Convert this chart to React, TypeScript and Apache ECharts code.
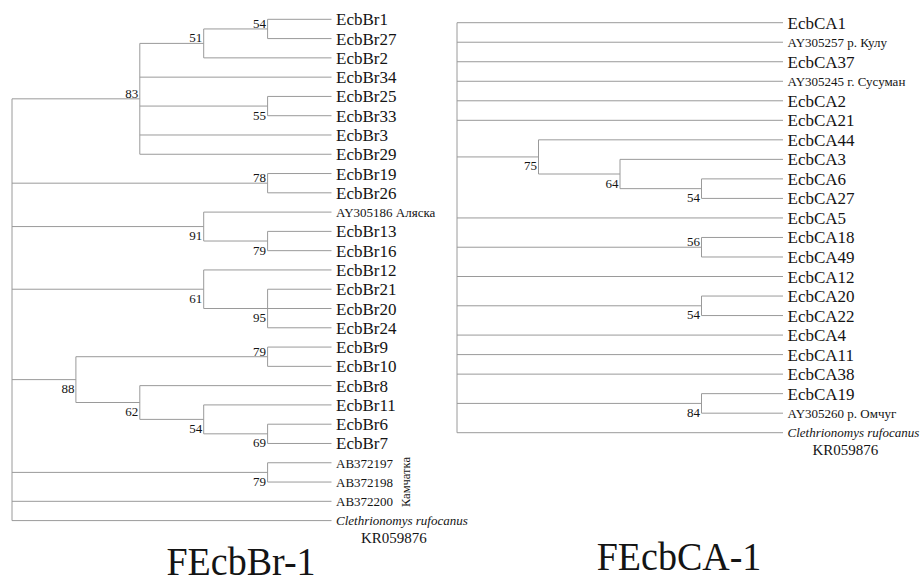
import { useEffect, useRef } from 'react';
import * as echarts from 'echarts';

// A clade is [bootstrap support (or null), ...children]; a child is a leaf name or a nested clade.
type Clade = (number | null | string | Clade)[];

const outgroupName = 'Clethrionomys rufocanus';
const outgroupAccession = 'KR059876';

const ecbBrTree: Clade = [
  null,
  [83, [51, [54, 'EcbBr1', 'EcbBr27'], 'EcbBr2'], 'EcbBr34', [55, 'EcbBr25', 'EcbBr33'], 'EcbBr3', 'EcbBr29'],
  [78, 'EcbBr19', 'EcbBr26'],
  [91, 'AY305186 Аляска', [79, 'EcbBr13', 'EcbBr16']],
  [61, 'EcbBr12', [95, 'EcbBr21', 'EcbBr20', 'EcbBr24']],
  [88, [79, 'EcbBr9', 'EcbBr10'], [62, 'EcbBr8', [54, 'EcbBr11', [69, 'EcbBr6', 'EcbBr7']]]],
  [79, 'AB372197', 'AB372198'],
  'AB372200',
  outgroupName,
];

const ecbCATree: Clade = [
  null,
  'EcbCA1',
  'AY305257 р. Кулу',
  'EcbCA37',
  'AY305245 г. Сусуман',
  'EcbCA2',
  'EcbCA21',
  [75, 'EcbCA44', [64, 'EcbCA3', [54, 'EcbCA6', 'EcbCA27']]],
  'EcbCA5',
  [56, 'EcbCA18', 'EcbCA49'],
  'EcbCA12',
  [54, 'EcbCA20', 'EcbCA22'],
  'EcbCA4',
  'EcbCA11',
  'EcbCA38',
  [84, 'EcbCA19', 'AY305260 р. Омчуг'],
  outgroupName,
];

const kamchatkaLeaves = ['AB372197', 'AB372198', 'AB372200'];
const kamchatkaLabel = 'Камчатка';
const treeTitles = ['FEcbBr-1', 'FEcbCA-1'];

// Support values drawn above their branch (support:first leaf of the clade); the rest sit below.
const supportAbove = new Set([
  '54:EcbBr1', '51:EcbBr1', '83:EcbBr1', '78:EcbBr19', '79:EcbBr9', '56:EcbCA18',
]);

const FONT = '"Liberation Serif", "Times New Roman", Times, serif';
const LINE = '#9a9a9a';
const INK = '#141414';

interface TreeNode {
  name?: string;
  support: number | null;
  row: number;
  height: number;
  depth: number;
  firstLeaf: string;
  children: TreeNode[];
}

function buildTree(clade: Clade) {
  const nodes: TreeNode[] = [];
  let leafRow = 0;
  const walk = (c: Clade | string): TreeNode => {
    if (typeof c === 'string') {
      const leaf: TreeNode = { name: c, support: null, row: leafRow++, height: 0, depth: 0, firstLeaf: c, children: [] };
      nodes.push(leaf);
      return leaf;
    }
    const [support, ...kids] = c as [number | null, ...(Clade | string)[]];
    const node: TreeNode = { support, row: 0, height: 0, depth: 0, firstLeaf: '', children: [] };
    nodes.push(node);
    node.children = kids.map(walk);
    const first = node.children[0];
    const last = node.children[node.children.length - 1];
    node.row = (first.row + last.row) / 2;
    node.height = 1 + Math.max(...node.children.map((ch) => ch.height));
    node.firstLeaf = first.firstLeaf;
    return node;
  };
  const root = walk(clade);
  // Cladogram: every leaf aligned at the right, each clade placed by its height.
  nodes.forEach((n) => (n.depth = root.height - n.height));
  return { nodes, leafCount: leafRow, maxDepth: root.height };
}

type Tree = ReturnType<typeof buildTree>;

const line = (x1: number, y1: number, x2: number, y2: number) => ({
  type: 'line',
  shape: { x1, y1, x2, y2 },
  style: { stroke: LINE, lineWidth: 1 },
});

function treeRenderer(tree: Tree) {
  return (params: any, api: any) => {
    const node = tree.nodes[params.dataIndex];
    const [x, y] = api.coord([node.depth, node.row]);
    const parts: any[] = [];
    if (node.children.length) {
      const top = api.coord([node.depth, node.children[0].row])[1];
      const bottom = api.coord([node.depth, node.children[node.children.length - 1].row])[1];
      parts.push(line(x, top, x, bottom));
      node.children.forEach((ch) => {
        const [cx, cy] = api.coord([ch.depth, ch.row]);
        parts.push(line(x, cy, cx, cy));
      });
      if (node.support != null) {
        const above = supportAbove.has(`${node.support}:${node.firstLeaf}`);
        parts.push({
          type: 'text',
          x: x - 1.5,
          y: above ? y + 1 : y + 2.5,
          style: {
            text: String(node.support),
            fill: INK,
            font: `13px ${FONT}`,
            align: 'right',
            verticalAlign: above ? 'bottom' : 'top',
          },
        });
      }
    } else if (node.name === outgroupName) {
      parts.push({
        type: 'text',
        x: x + 4.5,
        y: y - 8.5,
        style: {
          text: `{n|${outgroupName}}\n{a|${outgroupAccession}}`,
          fill: INK,
          align: 'left',
          verticalAlign: 'top',
          rich: {
            n: { fontStyle: 'italic', fontSize: 13, fontFamily: FONT, lineHeight: 17, fill: INK },
            a: {
              fontSize: 15,
              fontFamily: FONT,
              lineHeight: 17,
              align: 'center',
              fill: INK,
              padding: [0, 16, 0, 0],
            },
          },
        },
      });
    } else {
      const isSample = node.name!.startsWith('Ecb');
      parts.push({
        type: 'text',
        x: x + 4.5,
        y: y + 0.5,
        style: {
          text: node.name,
          fill: INK,
          font: `${isSample ? 17 : 13}px ${FONT}`,
          align: 'left',
          verticalAlign: 'middle',
        },
      });
    }
    return { type: 'group', children: parts };
  };
}

export default function App() {
  const ref = useRef<HTMLDivElement>(null);

  useEffect(() => {
    if (!ref.current) return;
    const chart = echarts.init(ref.current, undefined, { renderer: 'svg' });
    const brTree = buildTree(ecbBrTree);
    const caTree = buildTree(ecbCATree);

    const leafRow = (tree: Tree, name: string) => tree.nodes.find((n) => n.name === name)!.row;
    const kamRows = kamchatkaLeaves.map((n) => leafRow(brTree, n));

    const axisPair = (tree: Tree, idx: number) => ({
      x: { type: 'value', gridIndex: idx, min: 0, max: tree.maxDepth, show: false },
      y: { type: 'value', gridIndex: idx, min: 0, max: tree.leafCount - 1, inverse: true, show: false },
    });
    const a0 = axisPair(brTree, 0);
    const a1 = axisPair(caTree, 1);

    const titleStyle = (text: string) => ({
      text,
      fill: INK,
      font: `38px ${FONT}`,
      align: 'center',
      verticalAlign: 'middle',
    });

    chart.setOption({
      animation: false,
      backgroundColor: '#ffffff',
      grid: [
        { left: 12, top: 19.3, width: 319.5, height: 501.3 },
        { left: 457, top: 22.7, width: 326, height: 410 },
      ],
      xAxis: [a0.x, a1.x],
      yAxis: [a0.y, a1.y],
      series: [
        {
          type: 'custom',
          xAxisIndex: 0,
          yAxisIndex: 0,
          clip: false,
          silent: true,
          data: brTree.nodes.map((n) => [n.depth, n.row]),
          renderItem: treeRenderer(brTree),
        },
        {
          type: 'custom',
          xAxisIndex: 1,
          yAxisIndex: 1,
          clip: false,
          silent: true,
          data: caTree.nodes.map((n) => [n.depth, n.row]),
          renderItem: treeRenderer(caTree),
        },
        {
          // Region label for the Kamchatka accessions, written upward beside them
          type: 'custom',
          xAxisIndex: 0,
          yAxisIndex: 0,
          clip: false,
          silent: true,
          data: [[brTree.maxDepth, (Math.min(...kamRows) + Math.max(...kamRows)) / 2]],
          renderItem: (_p: any, api: any) => {
            const [x, y] = api.coord([api.value(0), api.value(1)]);
            return {
              type: 'text',
              x: x + 74,
              y,
              rotation: Math.PI / 2,
              style: {
                text: kamchatkaLabel,
                fill: INK,
                font: `12.5px ${FONT}`,
                align: 'center',
                verticalAlign: 'middle',
              },
            };
          },
        },
      ],
      graphic: [
        { type: 'text', x: 241, y: 561, scaleY: 1.05, style: titleStyle(treeTitles[0]) },
        { type: 'text', x: 679, y: 556, scaleY: 1.05, style: titleStyle(treeTitles[1]) },
      ],
    });

    return () => chart.dispose();
  }, []);

  return (
    <div
      ref={ref}
      style={{ position: 'fixed', left: 0, top: 0, width: 920, height: 585, background: '#fff' }}
    />
  );
}
